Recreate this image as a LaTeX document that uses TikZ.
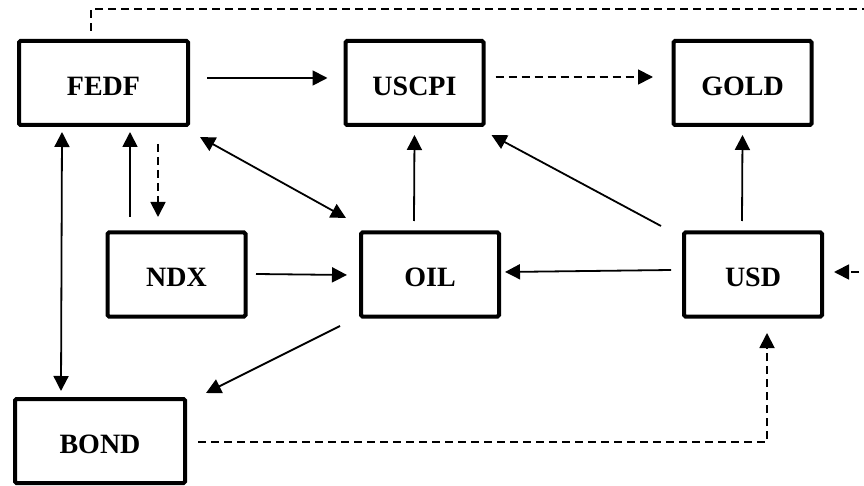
\documentclass[tikz,border=0pt]{standalone}
\usepackage{fontspec}
\setmainfont{Liberation Serif}
\usetikzlibrary{arrows.meta,calc}
\begin{document}
\begin{tikzpicture}[x=1pt,y=-1pt,
  box/.style={draw=black,line width=4pt,rounded corners=1.5pt,fill=white,
    font=\fontsize{28}{30}\selectfont\bfseries,text height=25pt,text depth=0pt,
    minimum height=84pt,inner sep=0pt},
  smallbox/.style={box,minimum width=138pt},
  widebox/.style={box,minimum width=169pt},
  conn/.style={line width=1.8pt,-{Triangle[length=15pt,width=15pt]}},
  bconn/.style={line width=1.8pt,{Triangle[length=15pt,width=15pt]}-{Triangle[length=15pt,width=15pt]}},
  dconn/.style={conn,dash pattern=on 8pt off 5pt}]
\useasboundingbox (0,0) rectangle (864,486);
\clip (0,0) rectangle (864,486);
\node[widebox] (FEDF) at (103.5,83) {FEDF};
\node[smallbox] (USCPI) at (414.5,83) {USCPI};
\node[smallbox] (GOLD) at (742.5,83) {GOLD};
\node[smallbox] (NDX) at (176.5,274.5) {NDX};
\node[smallbox] (OIL) at (430,274.5) {OIL};
\node[smallbox] (USD) at (753,274.5) {USD};
\node[box,minimum width=170pt] (BOND) at (100,441) {BOND};
\coordinate (topR) at (885,9);
% connectors
\draw[conn] ($(FEDF.east)+(17,-5)$) -- ($(USCPI.west)+(-16,-5)$);
\draw[dconn] ($(USCPI.east)+(10,-6)$) -- ($(GOLD.west)+(-18.5,-6)$);
\draw[dconn] ($(FEDF.north)+(-12.5,-8)$) |- (topR) |- ($(USD.east)+(10,-2.5)$);
\draw[conn] ($(NDX.north)+(-46.5,-13.5)$) -- ($(FEDF.south)+(26.5,5)$);
\draw[dconn] ($(FEDF.south)+(54.5,17)$) -- ($(NDX.north)+(-18.5,-13.5)$);
\draw[bconn] ($(FEDF.south east)+(10,10)$) -- ($(OIL.north west)+(-13,-12.5)$);
\draw[conn] ($(NDX.east)+(8.5,-0.5)$) -- ($(OIL.west)+(-12,0.5)$);
\draw[conn] ($(OIL.north)+(-16,-9.5)$) -- ($(USCPI.south)+(0,8)$);
\draw[conn] ($(USD.north west)+(-21,-4.5)$) -- ($(USCPI.south east)+(6,8)$);
\draw[conn] ($(USD.west)+(-11,-4.5)$) -- ($(OIL.east)+(4,-2.5)$);
\draw[conn] ($(USD.north)+(-11,-9.5)$) -- ($(GOLD.south)+(0,8)$);
\draw[bconn] ($(FEDF.south)+(-41.5,5)$) -- ($(BOND.north)+(-39,-6)$);
\draw[conn] ($(OIL.south west)+(-19,7.5)$) -- ($(BOND.north east)+(19,-4)$);
\draw[dconn] ($(BOND.east)+(11,1)$) -| ($(USD.south)+(14,14.5)$);
\end{tikzpicture}
\end{document}
